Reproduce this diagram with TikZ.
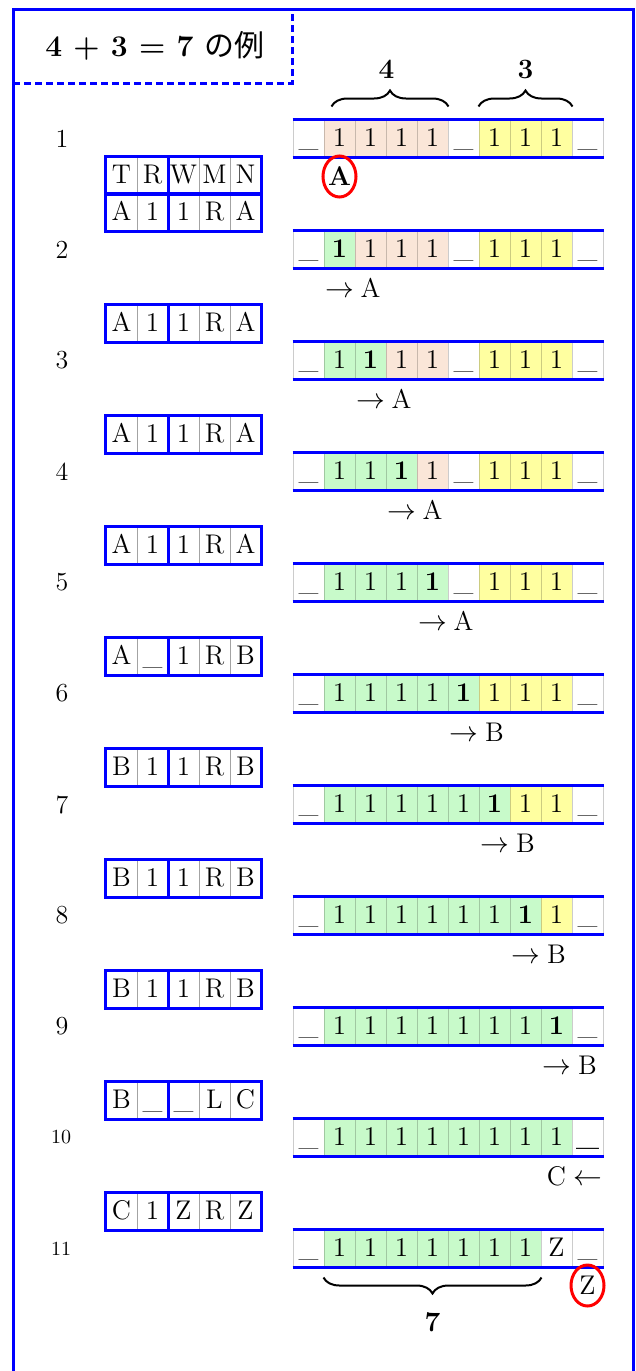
\documentclass[tikz,border=0pt]{standalone}
\usepackage{fontspec}
\newfontfamily\jpfont{Noto Sans CJK JP}
\usetikzlibrary{shapes.geometric,decorations.pathreplacing}
\definecolor{tmblue}{RGB}{0,0,255}
\definecolor{tw}{RGB}{255,255,255}
\definecolor{tp}{RGB}{250,230,216}
\definecolor{ty}{RGB}{255,255,160}
\definecolor{tg}{RGB}{200,250,202}
\newcommand{\cellfont}{\fontsize{13.5}{16}\selectfont}

\begin{document}
\begin{tikzpicture}[x=0.5pt, y=-0.5pt,
    cell/.style={rectangle, minimum width=15.5pt, minimum height=18.5pt, inner sep=0pt,
        draw=black, draw opacity=0.2, line width=0.5pt,
        text height=9.5pt, text depth=1.5pt, font=\cellfont},
    blueline/.style={tmblue, line width=1.5pt},
    headlbl/.style={inner sep=0pt, text height=9.5pt, text depth=1.5pt, font=\cellfont},
    ring/.style={ellipse, draw=red, line width=1.5pt, inner sep=0pt,
        minimum width=16.5pt, minimum height=20.5pt, font=\cellfont},
    curly/.style={decorate, decoration={brace, amplitude=8pt}, line width=1pt},
    bracelbl/.style={font=\fontsize{14}{16}\selectfont\bfseries},
    stepno/.style={font=\fontsize{13}{15}\selectfont}]
    \useasboundingbox (0,0) rectangle (636,1371);

    % frame and title box
    \draw[blueline] (13,1371) -- (13,9) -- (633,9) -- (633,1371);
    \draw[blueline, dash pattern=on 3.5pt off 2pt] (13,83) -- (292,83) -- (292,9);
    \node (title) at (155,46) {\fontsize{15}{18}\selectfont\bfseries 4 + 3 = 7 {\jpfont\mdseries の例}};

    % tapes: fill/symbol for each cell
    \foreach \k/\cells in {
        1/{tw/\_,tp/1,tp/1,tp/1,tp/1,tw/\_,ty/1,ty/1,ty/1,tw/\_},
        2/{tw/\_,tg/\textbf{1},tp/1,tp/1,tp/1,tw/\_,ty/1,ty/1,ty/1,tw/\_},
        3/{tw/\_,tg/1,tg/\textbf{1},tp/1,tp/1,tw/\_,ty/1,ty/1,ty/1,tw/\_},
        4/{tw/\_,tg/1,tg/1,tg/\textbf{1},tp/1,tw/\_,ty/1,ty/1,ty/1,tw/\_},
        5/{tw/\_,tg/1,tg/1,tg/1,tg/\textbf{1},tw/\_,ty/1,ty/1,ty/1,tw/\_},
        6/{tw/\_,tg/1,tg/1,tg/1,tg/1,tg/\textbf{1},ty/1,ty/1,ty/1,tw/\_},
        7/{tw/\_,tg/1,tg/1,tg/1,tg/1,tg/1,tg/\textbf{1},ty/1,ty/1,tw/\_},
        8/{tw/\_,tg/1,tg/1,tg/1,tg/1,tg/1,tg/1,tg/\textbf{1},ty/1,tw/\_},
        9/{tw/\_,tg/1,tg/1,tg/1,tg/1,tg/1,tg/1,tg/1,tg/\textbf{1},tw/\_},
        10/{tw/\_,tg/1,tg/1,tg/1,tg/1,tg/1,tg/1,tg/1,tg/1,tw/\textbf{\_}},
        11/{tw/\_,tg/1,tg/1,tg/1,tg/1,tg/1,tg/1,tg/1,tw/Z,tw/\_}} {
        \foreach \f/\v [count=\i from 0] in \cells
            \node[cell, fill=\f] (t\k-\i) at (308.5+31*\i, 27.5+111*\k) {\v};
        \draw[blueline] (t\k-0.north west) -- (t\k-9.north east);
        \draw[blueline] (t\k-0.south west) -- (t\k-9.south east);
    }

    % step numbers
    \foreach \k in {1,...,9}
        \node[stepno] (n\k) at (62, 27.5+111*\k) {\k};
    \node[font=\fontsize{10}{12}\selectfont] (n10) at (61,1137.5) {10};
    \node[font=\fontsize{10}{12}\selectfont] (n11) at (61,1248.5) {11};

    % rule boxes
    \foreach \v [count=\j from 0] in {T,R,W,M,N}
        \node[cell] (hd-\j) at (121.5+31*\j, 175.5) {\v};
    \foreach \k/\rw in {1/{A,1,1,R,A}, 2/{A,1,1,R,A}, 3/{A,1,1,R,A}, 4/{A,1,1,R,A},
        5/{A,\_,1,R,B}, 6/{B,1,1,R,B}, 7/{B,1,1,R,B}, 8/{B,1,1,R,B},
        9/{B,\_,\_,L,C}, 10/{C,1,Z,R,Z}} {
        \foreach \v [count=\j from 0] in \rw
            \node[cell] (r\k-\j) at (121.5+31*\j, 101.5+111*\k) {\v};
        \draw[blueline] (r\k-0.north west) rectangle (r\k-4.south east);
        \draw[blueline] (r\k-1.north east) -- (r\k-1.south east);
    }
    \draw[blueline] (hd-0.north west) rectangle (hd-4.south east);
    \draw[blueline] (hd-1.north east) -- (hd-1.south east);

    % head position and state
    \node[ring] (h1) at ([yshift=-9.5pt]t1-1.south) {\textbf{A}};
    \foreach \k/\ac/\hc/\st/\sym in {2/1/2/A/\rightarrow, 3/2/3/A/\rightarrow,
        4/3/4/A/\rightarrow, 5/4/5/A/\rightarrow, 6/5/6/B/\rightarrow,
        7/6/7/B/\rightarrow, 8/7/8/B/\rightarrow, 9/8/9/B/\rightarrow,
        10/9/8/C/\leftarrow} {
        \node[headlbl] (ar\k) at ([yshift=-10.5pt]t\k-\ac.south) {$\sym$};
        \node[headlbl] (h\k) at ([yshift=-10.5pt]t\k-\hc.south) {\st};
    }
    \node[ring] (h11) at ([yshift=-9pt]t11-9.south) {Z};

    % braces
    \draw[curly] ([xshift=4pt,yshift=6.5pt]t1-1.north west) -- ([yshift=6.5pt]t1-4.north east);
    \draw[curly] ([yshift=6.5pt]t1-6.north west) -- ([yshift=6.5pt]t1-8.north east);
    \draw[curly] ([yshift=-5pt]t11-7.south east) -- ([yshift=-5pt]t11-1.south west);
    \node[bracelbl] (lbl4) at ([yshift=25pt]t1-2.north east) {4};
    \node[bracelbl] (lbl3) at ([yshift=25pt]t1-7.north) {3};
    \node[bracelbl] (lbl7) at ([yshift=-27.5pt]t11-4.south) {7};
\end{tikzpicture}
\end{document}
